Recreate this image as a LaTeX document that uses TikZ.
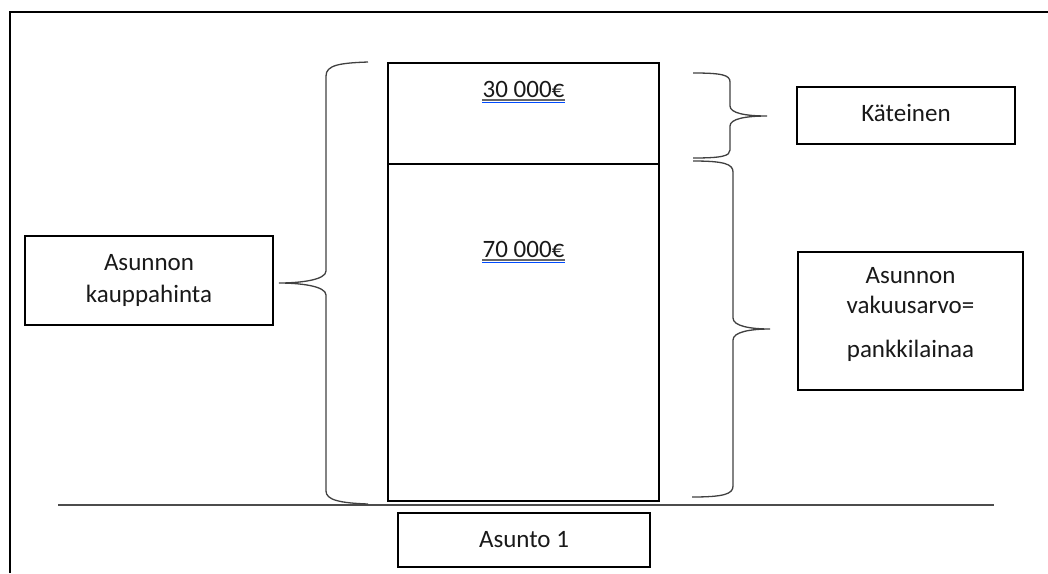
\documentclass[tikz,border=0pt]{standalone}
\usepackage{fontspec}
\setmainfont{Carlito}
\begin{document}
\begin{tikzpicture}[x=1pt,y=-1pt,
  box/.style={draw=black,line width=1.1pt,inner sep=0pt,outer sep=0pt,anchor=center},
  txt/.style={inner sep=0pt,anchor=base,font=\fontsize{25}{28}\selectfont,text=black!90},
  brace/.style={draw=black!75,line width=1.3pt},
  uline/.style={line width=1.1pt}]
\useasboundingbox (0,0) rectangle (1048,573);
% frame
\draw[line width=2pt] (10,573) -- (10,12) -- (1048,12);
% main column
\node[box,minimum width=271pt,minimum height=101pt] (top) at (523.5,113.5) {};
\node[box,minimum width=271pt,minimum height=337pt] (bot) at (523.5,332.5) {};
\node[txt] (t30) at (523.5,97) {30 000€};
\node[txt] (t70) at (523.5,257) {70 000€};
\draw[uline,black!60] (t30.base west) ++(0,3) -- (t30.base east |- 0,100);
\draw[uline,blue!70!cyan] (t30.base west) ++(0,5.5) -- (t30.base east |- 0,102.5);
\draw[uline,black!60] (t70.base west) ++(0,3) -- (t70.base east |- 0,260);
\draw[uline,blue!70!cyan] (t70.base west) ++(0,5.5) -- (t70.base east |- 0,262.5);
% ground line
\coordinate (g1) at (58,505);
\coordinate (g2) at (994,505);
\draw[line width=1.3pt,black!70] (g1) -- (g2);
% boxes
\node[box,minimum width=252pt,minimum height=54pt] (asunto) at (524,540) {};
\node[txt] (asuntot) at (524,547) {Asunto 1};
\node[box,minimum width=248pt,minimum height=89pt] (left) at (149,280.5) {};
\node[txt] (l1) at (149,270) {Asunnon};
\node[txt] (l2) at (149,302) {kauppahinta};
\node[box,minimum width=218pt,minimum height=57pt] (kat) at (906,115.5) {};
\node[txt] (katt) at (906,121) {Käteinen};
\node[box,minimum width=225pt,minimum height=138pt] (right) at (910.5,321) {};
\node[txt] (r1) at (910.5,283) {Asunnon};
\node[txt] (r2) at (910.5,313) {vakuusarvo=};
\node[txt] (r3) at (910.5,357) {pankkilainaa};
% braces
\coordinate (lbt) at (368,62);
\coordinate (lbtip) at (279,283);
\coordinate (lbb) at (368,504);
\draw[brace] (lbt) .. controls (340,63) and (326,65) .. (326,76) -- (326,271)
  .. controls (326,280) and (300,283) .. (lbtip)
  .. controls (300,283) and (326,286) .. (326,295) -- (326,491)
  .. controls (326,500) and (340,503) .. (lbb);
\coordinate (rat) at (693,73);
\coordinate (ratip) at (767,116);
\coordinate (rab) at (693,158);
\draw[brace] (rat) .. controls (722,73) and (730,75) .. (730,82) -- (730,106)
  .. controls (730,113) and (745,116) .. (ratip)
  .. controls (745,116) and (730,119) .. (730,126) -- (730,150)
  .. controls (730,156) and (722,158) .. (rab);
\coordinate (rbt) at (693,161);
\coordinate (rbtip) at (770,329);
\coordinate (rbb) at (692,497);
\draw[brace] (rbt) .. controls (724,161) and (733,164) .. (733,172) -- (733,318)
  .. controls (733,326) and (750,329) .. (rbtip)
  .. controls (750,329) and (733,332) .. (733,340) -- (733,486)
  .. controls (733,494) and (724,497) .. (rbb);
\end{tikzpicture}
\end{document}
